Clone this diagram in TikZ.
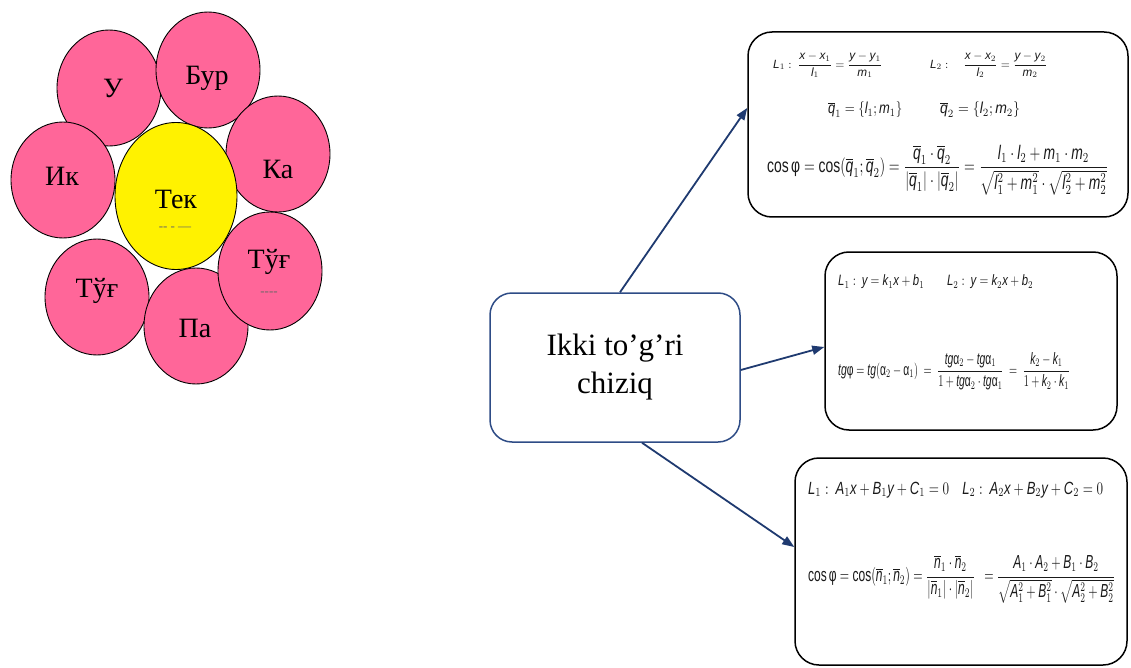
\documentclass[tikz,border=0pt]{standalone}
\usepackage{graphicx}
\usepackage{fontspec}
\setmainfont{Liberation Serif}
\setsansfont{Liberation Sans}
\usetikzlibrary{shapes.geometric,arrows.meta}
\DeclareSymbolFont{sfit}{TU}{\sfdefault}{m}{it}
\DeclareSymbolFont{sfup}{TU}{\sfdefault}{m}{n}
\DeclareMathAlphabet{\msf}{TU}{\sfdefault}{m}{n}
\newcount\mycnt
\mycnt=`a
\loop \Umathcode\mycnt=7 \symsfit\mycnt \ifnum\mycnt<`z \advance\mycnt by 1 \repeat
\mycnt=`A
\loop \Umathcode\mycnt=7 \symsfit\mycnt \ifnum\mycnt<`Z \advance\mycnt by 1 \repeat
\mycnt=`0
\loop \Umathcode\mycnt=0 \symsfup\mycnt \ifnum\mycnt<`9 \advance\mycnt by 1 \repeat
\newcommand\Cos{\mathop{\msf{cos}}\nolimits}
\newcommand\ov[1]{\overline{#1}}
\newcommand\phiup{\mathord{\mbox{\sffamily φ}}}
\newcommand\alup{\mathord{\mbox{\sffamily α}}}
\definecolor{petalpink}{HTML}{FF6699}
\definecolor{navyline}{HTML}{1F3A70}
\definecolor{boxblue}{HTML}{2E4C86}
\definecolor{formgray}{HTML}{1A1A1A}
\tikzset{
  petal/.style={ellipse, draw=black, line width=0.9pt, fill=petalpink, inner sep=0pt, minimum width=104pt, minimum height=116pt},
  petaltext/.style={inner sep=0pt, font=\fontsize{28}{32}\selectfont, text=black},
  dashtext/.style={inner sep=0pt, font=\fontsize{13}{13}\selectfont, text=black!60},
  formbox/.style={draw=black, line width=1.5pt, rounded corners=24pt, inner sep=0pt},
  formula/.style={inner sep=0pt, anchor=west, text=formgray},
  link/.style={draw=navyline, line width=1.8pt, -{Triangle[length=12pt,width=9pt]}}
}
\begin{document}
\begin{tikzpicture}[x=1pt,y=-1pt]
\useasboundingbox (0,0) rectangle (1131,668);
% flower
\node[petal] (pU) at (109,88) {};
\node[petal] (pBur) at (208,70) {};
\node[petal] (pKa) at (278,154) {};
\node[petal] (pIk) at (63,180) {};
\node[ellipse, draw=black, line width=0.9pt, fill=yellow, inner sep=0pt, minimum width=122pt, minimum height=147pt] (pTek) at (176,196) {};
\node[petal] (pTugL) at (97,297) {};
\node[petal] (pPa) at (196,326) {};
\node[petal, minimum height=118pt] (pTugR) at (270,271) {};
\node[petaltext] (tU) at (113,88) {У};
\node[petaltext] (tBur) at (207,78) {Бур};
\node[petaltext] (tKa) at (278,169) {Ка};
\node[petaltext] (tIk) at (62,176) {Ик};
\node[petaltext] (tTek) at (176,199) {Тек};
\node[dashtext] (dTek) at (175,229) {-{}- - —};
\node[petaltext] (tTugR) at (269,262) {Тўғ};
\node[dashtext] (dTugR) at (269,294) {-{}-{}-{}-};
\node[petaltext] (tTugL) at (97,291) {Тўғ};
\node[petaltext] (tPa) at (195,328) {Па};
% main box
\node[draw=boxblue, line width=1.5pt, rounded corners=22pt, minimum width=250pt, minimum height=149pt, inner sep=0pt, align=center, font=\fontsize{31}{38}\selectfont] (main) at (615,367.5) {Ikki to’g’ri\\chiziq};
% formula boxes
\node[formbox, minimum width=380pt, minimum height=185pt] (box1) at (938,124.5) {};
\node[formbox, minimum width=292pt, minimum height=178pt] (box2) at (971,341) {};
\node[formbox, minimum width=332pt, minimum height=207pt] (box3) at (961,561.5) {};
% box1 formulas
\node[formula] (f1a) at (773,65.5) {\resizebox*{109pt}{25pt}{$L_1:\ \displaystyle\frac{x-x_1}{l_1}=\frac{y-y_1}{m_1}$}};
\node[formula] (f1b) at (930,65.5) {\resizebox*{117pt}{25pt}{$L_2:\quad\displaystyle\frac{x-x_2}{l_2}=\frac{y-y_2}{m_2}$}};
\node[formula] (f1c) at (828,110) {\resizebox*{74pt}{16pt}{$\ov{q}_1=\{l_1;m_1\}$}};
\node[formula] (f1d) at (940,110) {\resizebox*{80pt}{16pt}{$\ov{q}_2=\{l_2;m_2\}$}};
\node[formula] (f1e) at (767,170) {\resizebox*{341pt}{50pt}{$\displaystyle\Cos\phiup=\Cos(\ov{q}_1;\ov{q}_2)=\frac{\ov{q}_1\cdot\ov{q}_2}{|\ov{q}_1|\cdot|\ov{q}_2|}=\frac{l_1\cdot l_2+m_1\cdot m_2}{\sqrt{l_1^2+m_1^2}\cdot\sqrt{l_2^2+m_2^2}}$}};
% box2 formulas
\node[formula] (f2a) at (838,282) {\resizebox*{195pt}{14pt}{$L_1:\ y=k_1x+b_1\qquad L_2:\ y=k_2x+b_2$}};
\node[formula] (f2b) at (838,371) {\resizebox*{232pt}{38pt}{$\displaystyle tg\phiup=tg(\alup_2-\alup_1)\ =\ \frac{tg\alup_2-tg\alup_1}{1+tg\alup_2\cdot tg\alup_1}\ =\ \frac{k_2-k_1}{1+k_2\cdot k_1}$}};
% box3 formulas
\node[formula] (f3a) at (808,490) {\resizebox*{295pt}{16pt}{$L_1:\ A_1x+B_1y+C_1=0\quad L_2:\ A_2x+B_2y+C_2=0$}};
\node[formula] (f3b) at (808,579) {\resizebox*{307pt}{48pt}{$\displaystyle\Cos\phiup=\Cos(\ov{n}_1;\ov{n}_2)=\frac{\ov{n}_1\cdot\ov{n}_2}{|\ov{n}_1|\cdot|\ov{n}_2|}\ \ =\frac{A_1\cdot A_2+B_1\cdot B_2}{\sqrt{A_1^2+B_1^2}\cdot\sqrt{A_2^2+B_2^2}}$}};
% connectors
\draw[link] ([xshift=5pt]main.north) -- ([yshift=16.5pt]box1.west);
\draw[link] ([yshift=-2.5pt]main.east) -- ([yshift=-6pt]box2.west);
\draw[link] ([xshift=27pt]main.south) -- ([yshift=14.5pt]box3.west);
\end{tikzpicture}
\end{document}
